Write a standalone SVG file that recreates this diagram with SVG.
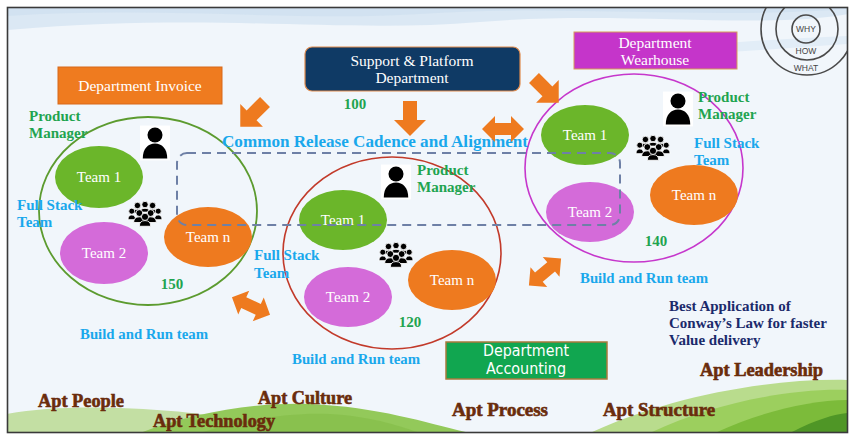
<svg xmlns="http://www.w3.org/2000/svg" width="854" height="437" viewBox="0 0 854 437">
  <style>
    .serif { font-family: "Liberation Serif", "DejaVu Serif", serif; }
    .team { font-family: "Liberation Serif", "DejaVu Serif", serif; font-size: 15px; fill: #ffffff; text-anchor: middle; }
    .box-label { font-family: "Liberation Serif", "DejaVu Serif", serif; font-size: 15.5px; fill: #ffffff; text-anchor: middle; }
    .pm { font-family: "Liberation Serif", "DejaVu Serif", serif; font-size: 15px; font-weight: bold; fill: #1fa450; }
    .fst { font-family: "Liberation Serif", "DejaVu Serif", serif; font-size: 15px; font-weight: bold; fill: #1aa8ec; }
    .num { font-family: "Liberation Serif", "DejaVu Serif", serif; font-size: 15px; font-weight: bold; fill: #1fa450; text-anchor: middle; }
    .bar { font-family: "Liberation Serif", "DejaVu Serif", serif; font-size: 14.5px; font-weight: bold; fill: #1aa8ec; text-anchor: middle; }
    .apt { font-family: "Liberation Serif", "DejaVu Serif", serif; font-size: 18px; font-weight: bold; fill: #6a2c0c; stroke: #6a2c0c; stroke-width: 0.6; paint-order: stroke; }
    .apt-shadow { font-family: "Liberation Serif", "DejaVu Serif", serif; font-size: 18px; font-weight: bold; fill: #b9a89a; opacity: 0.6; }
    .conway { font-family: "Liberation Serif", "DejaVu Serif", serif; font-size: 15px; font-weight: bold; fill: #1b2a6b; }
    .t1 { fill: #6bb62a; }
    .t2 { fill: #d46bd9; }
    .tn { fill: #ee7a1f; }
    .arrow { fill: #ee7a1f; }
    .ring { fill: none; stroke: #4a4a4a; stroke-width: 1.6; }
    .ring-text { font-family: "Liberation Sans", "DejaVu Sans", sans-serif; font-size: 8.5px; fill: #444; text-anchor: middle; }
  </style>
  <defs>
    <!-- single person silhouette on a white tile -->
    <symbol id="person" viewBox="-17 -19 34 38" overflow="visible">
      <rect x="-16" y="-18" width="32" height="37" fill="#ffffff"/>
      <circle cx="0" cy="-8" r="8" fill="#000"/>
      <path d="M-13,17 C-13,6 -7,1 0,1 C7,1 13,6 13,17 Z" fill="#000"/>
    </symbol>
    <!-- small crowd of people -->
    <symbol id="crowd" viewBox="-18 -13 36 26" overflow="visible">
      <g fill="#000" stroke="#fff" stroke-width="0.9">
        <circle cx="-8" cy="-9" r="3.4"/>
        <circle cx="0" cy="-10" r="3.4"/>
        <circle cx="8" cy="-9" r="3.4"/>
        <path d="M-13,-1 Q-13,-5 -8,-5 Q-3,-5 -3,-1 Z"/>
        <path d="M-5,-2 Q-5,-6 0,-6 Q5,-6 5,-2 Z"/>
        <path d="M3,-1 Q3,-5 8,-5 Q13,-5 13,-1 Z"/>
        <circle cx="-14" cy="-3" r="3.2"/>
        <circle cx="14" cy="-3" r="3.2"/>
        <path d="M-18,6 Q-18,1 -14,1 Q-10,1 -10,6 Z"/>
        <path d="M10,6 Q10,1 14,1 Q18,1 18,6 Z"/>
        <circle cx="-6" cy="-1" r="3.6"/>
        <circle cx="6" cy="-1" r="3.6"/>
        <path d="M-12,9 Q-12,3 -6,3 Q0,3 0,9 Z"/>
        <path d="M0,9 Q0,3 6,3 Q12,3 12,9 Z"/>
        <circle cx="0" cy="3" r="3.8"/>
        <path d="M-6,13 Q-6,7 0,7 Q6,7 6,13 Z"/>
      </g>
    </symbol>
    <path id="arrow1" d="M-17,-7 L2,-7 L2,-16 L18,0 L2,16 L2,7 L-17,7 Z"/>
    <path id="arrow2" d="M-21,0 L-8,-13 L-8,-6 L8,-6 L8,-13 L21,0 L8,13 L8,6 L-8,6 L-8,13 Z"/>
    <clipPath id="frame-clip">
      <rect x="8" y="8" width="839" height="424"/>
    </clipPath>
  </defs>

  <!-- page and frame -->
  <rect x="0" y="0" width="854" height="437" fill="#ffffff"/>
  <g clip-path="url(#frame-clip)">
    <rect x="7" y="7" width="841" height="426" fill="#f1f6fb"/>
    <!-- soft sky bands -->
    <path d="M7,7 H848 V14 C760,30 620,10 480,22 C340,34 220,12 7,30 Z" fill="#dbe8f4"/>
    <path d="M7,7 H848 V9 C700,20 560,4 420,14 C300,22 160,6 7,16 Z" fill="#cfe0f0" opacity="0.7"/>
    <path d="M600,60 C680,44 760,40 848,36 V44 C760,50 680,56 600,60 Z" fill="#e2edf7"/>

    <!-- meadow, left -->
    <path d="M7,414 C60,404 150,406 230,418 C270,424 320,433 340,433 H7 Z" fill="#c3dfa3"/>
    <path d="M140,433 C190,414 250,402 310,404 C380,407 430,424 470,433 Z" fill="#93c95a"/>
    <path d="M200,433 C240,420 290,412 330,414 C370,416 400,426 420,433 Z" fill="#82bd46" opacity="0.6"/>
    <!-- meadow, right -->
    <path d="M590,433 C660,400 760,378 848,380 V433 Z" fill="#b9dc8d"/>
    <path d="M650,433 C710,404 790,388 848,390 V433 Z" fill="#9ccf5e"/>
    <path d="M715,433 C760,412 810,400 848,400 V433 Z" fill="#7cbb3a"/>
    <path d="M790,433 C815,420 835,414 848,413 V433 Z" fill="#4f9626"/>
  </g>
  <rect x="7.5" y="7.5" width="840" height="425" fill="none" stroke="#3a3a3a" stroke-width="1.6"/>

  <!-- Why / How / What rings -->
  <g id="why-how-what" clip-path="url(#frame-clip)">
    <circle class="ring" cx="807" cy="29" r="46"/>
    <circle class="ring" cx="807" cy="29" r="31"/>
    <circle class="ring" cx="806" cy="29" r="14"/>
    <text class="ring-text" x="806" y="32">WHY</text>
    <text class="ring-text" x="806" y="54">HOW</text>
    <text class="ring-text" x="806" y="71">WHAT</text>
  </g>

  <!-- Department boxes -->
  <g id="dept-invoice">
    <rect x="58" y="67" width="164" height="37" fill="#ef7b1f" stroke="#d8691a" stroke-width="1"/>
    <text class="box-label" x="140" y="91">Department Invoice</text>
  </g>
  <g id="support-platform">
    <rect x="305" y="47" width="215" height="44" rx="7" fill="#0f3a65" stroke="#e08a4c" stroke-width="1.2"/>
    <text class="box-label" x="412" y="66">Support &amp; Platform</text>
    <text class="box-label" x="412" y="83">Department</text>
    <text class="num" x="355" y="109">100</text>
  </g>
  <g id="dept-wearhouse">
    <rect x="574" y="32" width="163" height="37" fill="#c535ca" stroke="#d79a5a" stroke-width="1"/>
    <text class="box-label" x="655" y="48">Department</text>
    <text class="box-label" x="655" y="65">Wearhouse</text>
  </g>
  <g id="dept-accounting">
    <rect x="446" y="342" width="161" height="37" fill="#11a650" stroke="#a87a3c" stroke-width="1.5"/>
    <text x="526" y="356" fill="#ffffff" text-anchor="middle" font-family="'Liberation Sans Narrow', 'DejaVu Sans Condensed', 'Liberation Sans', sans-serif" font-size="16" textLength="86" lengthAdjust="spacingAndGlyphs">Department</text>
    <text x="526" y="374" fill="#ffffff" text-anchor="middle" font-family="'Liberation Sans Narrow', 'DejaVu Sans Condensed', 'Liberation Sans', sans-serif" font-size="16" textLength="80" lengthAdjust="spacingAndGlyphs">Accounting</text>
  </g>

  <!-- Invoice team cluster -->
  <g id="cluster-invoice">
    <ellipse cx="148" cy="211" rx="109" ry="94" fill="none" stroke="#5c9b2f" stroke-width="1.8"/>
    <ellipse class="t1" cx="99" cy="177" rx="44" ry="31"/>
    <text class="team" x="99" y="182">Team 1</text>
    <ellipse class="t2" cx="104" cy="253" rx="44" ry="31"/>
    <text class="team" x="104" y="258">Team 2</text>
    <ellipse class="tn" cx="208" cy="237" rx="44" ry="30"/>
    <text class="team" x="208" y="242">Team n</text>
    <use href="#crowd" x="128" y="201" width="34" height="26"/>
    <use href="#person" x="139" y="124" width="32" height="37"/>
    <text class="pm" x="29" y="121">Product</text>
    <text class="pm" x="29" y="138">Manager</text>
    <text class="fst" x="17" y="210">Full Stack</text>
    <text class="fst" x="17" y="227">Team</text>
    <text class="num" x="172" y="289">150</text>
    <text class="bar" x="144" y="339" textLength="128" lengthAdjust="spacingAndGlyphs">Build and Run team</text>
  </g>

  <!-- Support / platform team cluster -->
  <g id="cluster-platform">
    <ellipse cx="392" cy="253" rx="109" ry="96" fill="none" stroke="#c23a2a" stroke-width="1.6"/>
    <ellipse class="t1" cx="343" cy="220" rx="44" ry="30"/>
    <text class="team" x="343" y="225">Team 1</text>
    <ellipse class="t2" cx="348" cy="297" rx="44" ry="30"/>
    <text class="team" x="348" y="302">Team 2</text>
    <ellipse class="tn" cx="452" cy="280" rx="44" ry="30"/>
    <text class="team" x="452" y="285">Team n</text>
    <use href="#crowd" x="379" y="242" width="34" height="26"/>
    <use href="#person" x="380" y="163" width="32" height="37"/>
    <text class="pm" x="417" y="175">Product</text>
    <text class="pm" x="417" y="192">Manager</text>
    <text class="fst" x="254" y="260">Full Stack</text>
    <text class="fst" x="254" y="278">Team</text>
    <text class="num" x="410" y="327">120</text>
    <text class="bar" x="356" y="364" textLength="128" lengthAdjust="spacingAndGlyphs">Build and Run team</text>
  </g>

  <!-- Wearhouse team cluster -->
  <g id="cluster-wearhouse">
    <ellipse cx="634" cy="168" rx="109" ry="94" fill="none" stroke="#c637cc" stroke-width="1.6"/>
    <ellipse class="t1" cx="585" cy="135" rx="44" ry="30"/>
    <text class="team" x="585" y="140">Team 1</text>
    <ellipse class="t2" cx="590" cy="212" rx="44" ry="30"/>
    <text class="team" x="590" y="217">Team 2</text>
    <ellipse class="tn" cx="694" cy="195" rx="44" ry="30"/>
    <text class="team" x="694" y="200">Team n</text>
    <use href="#crowd" x="636" y="135" width="34" height="26"/>
    <use href="#person" x="662" y="90" width="32" height="37"/>
    <text class="pm" x="698" y="102">Product</text>
    <text class="pm" x="698" y="119">Manager</text>
    <text class="fst" x="694" y="148">Full Stack</text>
    <text class="fst" x="694" y="165">Team</text>
    <text class="num" x="656" y="246">140</text>
    <text class="bar" x="644" y="283" textLength="128" lengthAdjust="spacingAndGlyphs">Build and Run team</text>
  </g>

  <!-- shared release cadence -->
  <g id="release-cadence">
    <rect x="177" y="153" width="443" height="72" rx="10" fill="none" stroke="#6e80a6" stroke-width="2" stroke-dasharray="9 6"/>
    <text x="222" y="147" font-family="'Liberation Serif', 'DejaVu Serif', serif" font-size="16.5" font-weight="bold" fill="#1aa8ec" textLength="306" lengthAdjust="spacingAndGlyphs">Common Release Cadence and Alignment</text>
  </g>

  <!-- connectors -->
  <g id="connectors">
    <use href="#arrow1" class="arrow" transform="translate(253,114) rotate(135)"/>
    <use href="#arrow1" class="arrow" transform="translate(410,118) rotate(90)"/>
    <use href="#arrow1" class="arrow" transform="translate(546,90) rotate(45)"/>
    <use href="#arrow2" class="arrow" transform="translate(503,129)"/>
    <use href="#arrow2" class="arrow" transform="translate(251,306) rotate(25)"/>
    <use href="#arrow2" class="arrow" transform="translate(545,272) rotate(-40)"/>
  </g>

  <!-- note -->
  <g id="conway-note">
    <text class="conway" x="669" y="311">Best Application of</text>
    <text class="conway" x="669" y="328">Conway’s Law for faster</text>
    <text class="conway" x="669" y="345">Value delivery</text>
  </g>

  <!-- aptitude labels -->
  <g id="apt-labels">
    <text class="apt" x="38" y="407" textLength="86" lengthAdjust="spacingAndGlyphs">Apt People</text>
    <text class="apt" x="153" y="427" textLength="122" lengthAdjust="spacingAndGlyphs">Apt Technology</text>
    <text class="apt" x="258" y="404" textLength="94" lengthAdjust="spacingAndGlyphs">Apt Culture</text>
    <text class="apt" x="452" y="416" textLength="96" lengthAdjust="spacingAndGlyphs">Apt Process</text>
    <text class="apt" x="603" y="416" textLength="112" lengthAdjust="spacingAndGlyphs">Apt Structure</text>
    <text class="apt" x="700" y="376" textLength="123" lengthAdjust="spacingAndGlyphs">Apt Leadership</text>
  </g>
</svg>
